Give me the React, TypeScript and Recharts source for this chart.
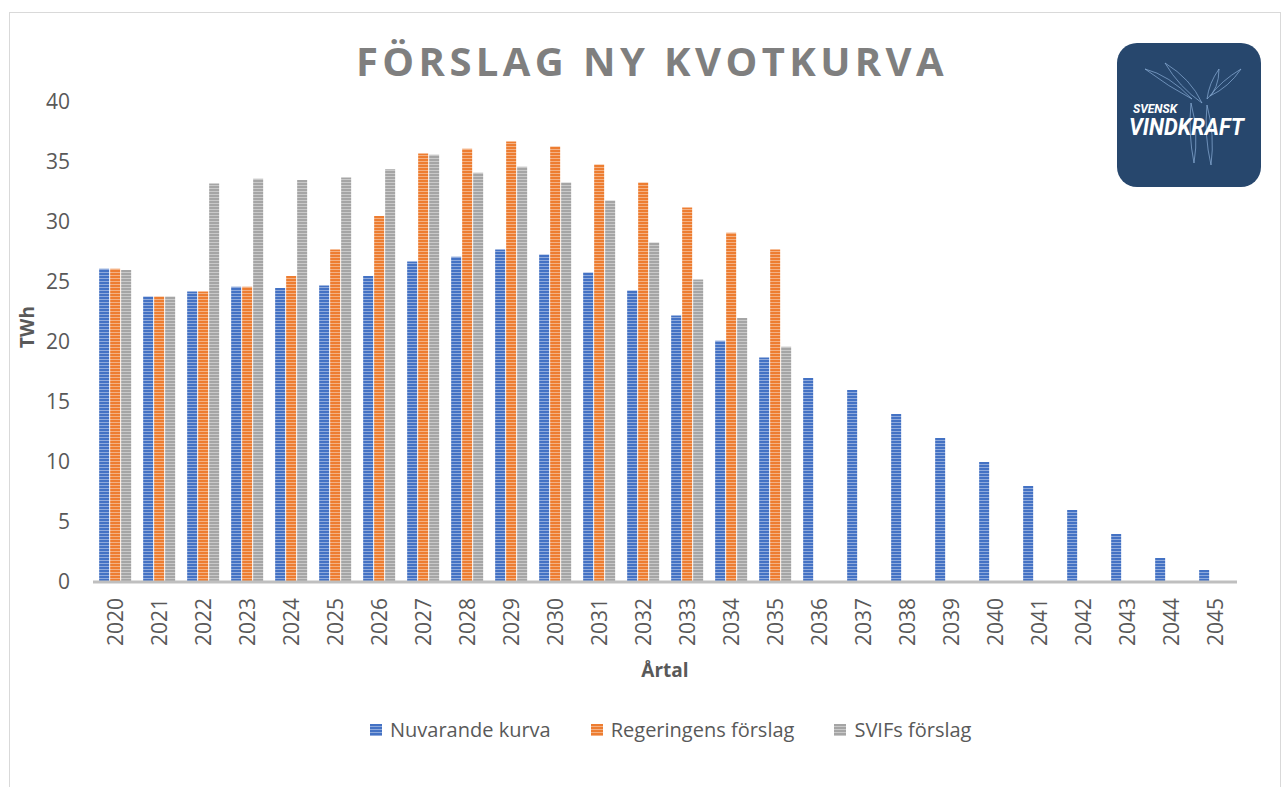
import React from 'react';
import { BarChart, Bar, XAxis, YAxis, Legend } from 'recharts';

const years = [
  '2020', '2021', '2022', '2023', '2024', '2025', '2026', '2027', '2028', '2029', '2030', '2031', '2032',
  '2033', '2034', '2035', '2036', '2037', '2038', '2039', '2040', '2041', '2042', '2043', '2044', '2045',
];
const nuvarandeKurva = [
  26.1, 23.8, 24.2, 24.6, 24.5, 24.7, 25.5, 26.7, 27.1, 27.7, 27.3, 25.8, 24.3,
  22.2, 20.1, 18.7, 17, 16, 14, 12, 10, 8, 6, 4, 2, 1,
];
const regeringensForslag = [
  26.1, 23.8, 24.2, 24.6, 25.5, 27.7, 30.5, 35.7, 36.1, 36.7, 36.3, 34.8, 33.3,
  31.2, 29.1, 27.7, null, null, null, null, null, null, null, null, null, null,
];
const svifsForslag = [
  26.0, 23.8, 33.2, 33.6, 33.5, 33.7, 34.4, 35.6, 34.1, 34.6, 33.3, 31.8, 28.3,
  25.2, 22.0, 19.6, null, null, null, null, null, null, null, null, null, null,
];
const yTicks = [0, 5, 10, 15, 20, 25, 30, 35, 40];

const SERIES = [
  { key: 'nuvarande', name: 'Nuvarande kurva', color: '#4472c4' },
  { key: 'regeringen', name: 'Regeringens förslag', color: '#ed7d31' },
  { key: 'svif', name: 'SVIFs förslag', color: '#a5a5a5' },
];

const data = years.map((year, i) => ({
  year,
  nuvarande: nuvarandeKurva[i],
  regeringen: regeringensForslag[i],
  svif: svifsForslag[i],
}));

const FONT = '"Open Sans", sans-serif';
const TEXT = '#595959';

// striped fill like the excel "narrow horizontal" pattern
function StripePattern({ id, color }: { id: string; color: string }) {
  return (
    <pattern id={id} width={4} height={3} patternUnits="userSpaceOnUse">
      <rect width={4} height={3} fill={color} />
      <rect y={2} width={4} height={1} fill="#ffffff" fillOpacity={0.4} />
    </pattern>
  );
}

function YearTick(props: any) {
  const { x, y, payload } = props;
  return (
    <text
      x={x}
      y={y}
      dy="0.36em"
      transform={`rotate(-90 ${x} ${y})`}
      textAnchor="end"
      fill={TEXT}
      fontSize={21}
      fontFamily={FONT}
    >
      {payload.value}
    </text>
  );
}

function LegendContent() {
  return (
    <div style={{ display: 'flex', alignItems: 'center', fontFamily: FONT, fontSize: 20, color: TEXT }}>
      {SERIES.map((s, i) => (
        <div key={s.key} style={{ display: 'flex', alignItems: 'center', marginRight: i < 2 ? 40 : 0 }}>
          <svg width={12} height={12} style={{ marginRight: 8 }}>
            <defs>
              <StripePattern id={`lg-${s.key}`} color={s.color} />
            </defs>
            <rect width={12} height={12} fill={`url(#lg-${s.key})`} />
          </svg>
          <span>{s.name}</span>
        </div>
      ))}
    </div>
  );
}

function Logo() {
  const line = { fill: 'none', stroke: '#8fb3dc', strokeOpacity: 0.75, strokeWidth: 0.9 };
  return (
    <div
      style={{
        position: 'absolute',
        left: 1117,
        top: 43,
        width: 144,
        height: 144,
        borderRadius: 20,
        background: '#27476d',
      }}
    >
      <svg width={144} height={144}>
        <path d="M28 26 Q52 32 75 56 Q52 44 28 26 Z" {...line} />
        <path d="M48 20 Q74 36 85 60 Q62 44 48 20 Z" {...line} />
        <path d="M102 26 Q102 46 90 56 Q92 40 102 26 Z" {...line} />
        <path d="M124 26 Q112 44 93 53 Q104 38 124 26 Z" {...line} />
        <path d="M74 60 Q82 90 77 120 Q71 90 74 60" {...line} />
        <path d="M90 62 Q98 92 94 122 Q87 92 90 62" {...line} />
        <text x={16} y={70} fill="#ffffff" fontFamily="Roboto, sans-serif" fontWeight={700} fontStyle="italic" fontSize={12}>
          SVENSK
        </text>
        <text
          x={12}
          y={92}
          fill="#ffffff"
          fontFamily="Roboto, sans-serif"
          fontWeight={700}
          fontStyle="italic"
          fontSize={23}
          textLength={115}
          lengthAdjust="spacingAndGlyphs"
        >
          VINDKRAFT
        </text>
      </svg>
    </div>
  );
}

export default function App() {
  return (
    <div style={{ position: 'absolute', left: 0, top: 0, width: 1285, height: 787, background: '#fff' }}>
      <div
        style={{
          position: 'absolute',
          left: 9,
          top: 12,
          width: 1272,
          height: 800,
          border: '1px solid #d9d9d9',
          boxSizing: 'border-box',
        }}
      />
      <div
        style={{
          position: 'absolute',
          left: 0,
          top: 41,
          width: 1304,
          textAlign: 'center',
          fontFamily: FONT,
          fontWeight: 700,
          fontSize: 40,
          lineHeight: 1,
          letterSpacing: 4.4,
          color: '#7f7f7f',
        }}
      >
        FÖRSLAG NY KVOTKURVA
      </div>
      <Logo />
      <div style={{ position: 'absolute', left: 0, top: 0 }}>
        <BarChart
          width={1285}
          height={787}
          data={data}
          margin={{ top: 102, right: 48, left: 0, bottom: 0 }}
          barGap={1}
          barCategoryGap="14%"
        >
          <defs>
            {SERIES.map((s) => (
              <StripePattern key={s.key} id={`bar-${s.key}`} color={s.color} />
            ))}
          </defs>
          <YAxis
            width={93}
            domain={[0, 40]}
            ticks={yTicks}
            axisLine={false}
            tickLine={false}
            tickMargin={17}
            tick={{ fill: TEXT, fontSize: 21, fontFamily: FONT }}
            label={{
              content: () => (
                <text
                  x={34}
                  y={327}
                  transform="rotate(-90 34 327)"
                  textAnchor="middle"
                  fill={TEXT}
                  fontSize={19}
                  fontWeight={700}
                  fontFamily={FONT}
                >
                  TWh
                </text>
              ),
            }}
          />
          <XAxis
            dataKey="year"
            height={205}
            interval={0}
            axisLine={{ stroke: '#bfbfbf', strokeWidth: 3 }}
            tickLine={false}
            tickMargin={10}
            tick={<YearTick />}
            label={{
              content: () => (
                <text x={665} y={677} textAnchor="middle" fill={TEXT} fontSize={19} fontWeight={700} fontFamily={FONT}>
                  Årtal
                </text>
              ),
            }}
          />
          <Legend
            layout="horizontal"
            verticalAlign="middle"
            align="center"
            content={<LegendContent />}
            wrapperStyle={{ position: 'absolute', left: 370, top: 716, width: 'auto' }}
          />
          {SERIES.map((s) => (
            <Bar
              key={s.key}
              dataKey={s.key}
              name={s.name}
              fill={`url(#bar-${s.key})`}
              isAnimationActive={false}
            />
          ))}
        </BarChart>
      </div>
    </div>
  );
}
